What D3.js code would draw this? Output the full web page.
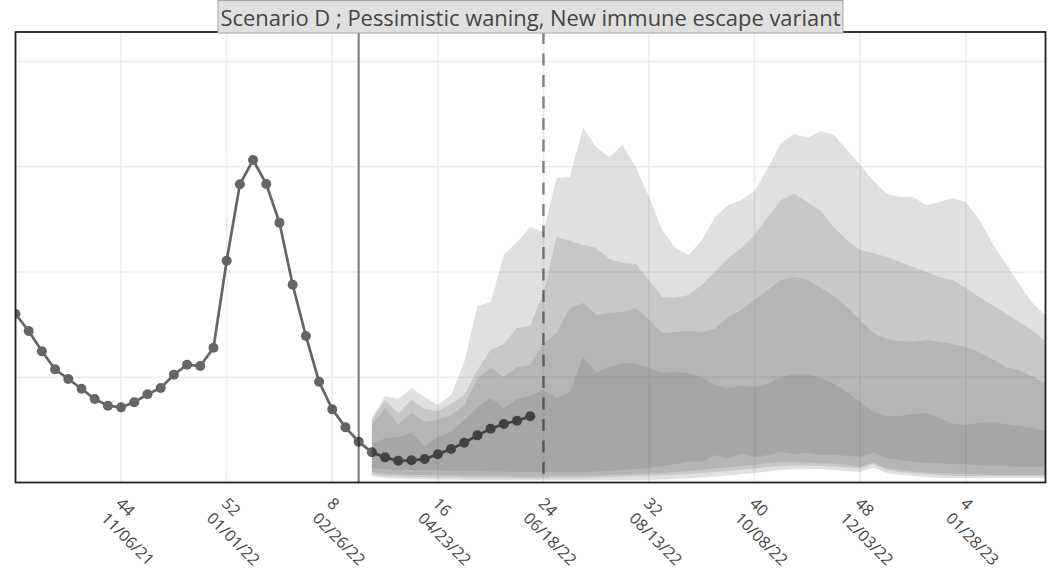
<!DOCTYPE html>
<html>
<head>
<meta charset="utf-8">
<script src="https://cdn.jsdelivr.net/npm/d3@7"></script>
<style>
  html, body { margin: 0; padding: 0; background: #fff; }
  svg { display: block; font-family: "Open Sans", "Noto Sans", sans-serif; }
</style>
</head>
<body>
<svg id="chart" width="1050" height="576"></svg>
<script>
// ---- data ---------------------------------------------------------------
const titleText = "Scenario D ; Pessimistic waning, New immune escape variant";

// weekly observed counts, first week ending 2021-09-11
const observedStart = "2021-09-11";
const observed = [1601, 1439, 1246, 1075, 983, 891, 793, 730, 714, 762,
  838, 898, 1024, 1119, 1107, 1281, 2107, 2833, 3064, 2836,
  2468, 1879, 1392, 958, 695, 524, 388, 287, 239, 207,
  211, 223, 268, 318, 378, 448, 511, 556, 587, 629];

// projection intervals, weekly, first week ending 2022-03-19
const projStart = "2022-03-19";
const q95hi = [613, 822, 793, 898, 812, 736, 831, 1145, 1677, 1715, 2161, 2285, 2427, 2380,
  2893, 2902, 3368, 3187, 3092, 3206, 2997, 2712, 2399, 2228,
  2161, 2304, 2522, 2636, 2684, 2769, 2988, 3225, 3311, 3273,
  3339, 3301, 3159, 3016, 2864, 2741, 2712, 2712, 2636, 2665,
  2703, 2665, 2503, 2275, 2085, 1895, 1715, 1591];
const q90hi = [594, 784, 660, 784, 698, 679, 746, 831, 1069, 1259, 1316, 1468, 1487, 1800,
  2332, 2294, 2256, 2228, 2123, 2085, 2076, 1924, 1762, 1753,
  1781, 1876, 2000, 2133, 2228, 2351, 2522, 2684, 2741, 2665,
  2579, 2427, 2304, 2209, 2180, 2142, 2095, 2047, 2000, 1952,
  1924, 1848, 1762, 1686, 1610, 1525, 1449, 1344];
const q80hi = [546, 708, 556, 660, 575, 594, 641, 736, 993, 1088, 1002, 1097, 1116, 1325,
  1420, 1658, 1705, 1591, 1610, 1620, 1658, 1544, 1420, 1430,
  1439, 1430, 1458, 1572, 1639, 1734, 1829, 1924, 1952, 1924,
  1848, 1772, 1667, 1544, 1420, 1363, 1344, 1335, 1354, 1335,
  1316, 1287, 1240, 1173, 1097, 1069, 1012, 945];
const q50hi = [356, 423, 432, 470, 347, 432, 480, 594, 717, 803, 708, 793, 822, 879,
  803, 860, 1192, 1040, 1097, 1135, 1126, 1088, 1040, 1050,
  1040, 1002, 926, 898, 917, 907, 936, 1002, 1031, 1031,
  993, 936, 860, 765, 670, 632, 632, 651, 660, 613,
  556, 546, 565, 575, 556, 537, 518, 489];
const q50lo = [138, 128, 119, 119, 119, 114, 109, 109, 109, 105, 105, 100, 100, 100,
  100, 100, 100, 105, 109, 119, 128, 138, 157, 176,
  200, 198, 261, 230, 277, 239, 261, 293, 271, 283,
  261, 268, 252, 245, 285, 230, 214, 198, 188, 182,
  176, 173, 166, 160, 157, 150, 150, 150];
const q80lo = [100, 81, 76, 71, 71, 67, 67, 62, 62, 62, 62, 57, 57, 57,
  62, 62, 62, 67, 71, 76, 81, 86, 90, 100,
  109, 119, 135, 144, 157, 166, 185, 195, 198, 190,
  181, 181, 166, 152, 190, 138, 119, 105, 95, 90,
  86, 81, 78, 71, 71, 71, 71, 71];
const q90lo = [81, 62, 57, 52, 52, 48, 48, 43, 43, 43, 43, 38, 38, 38,
  43, 43, 43, 48, 52, 57, 62, 67, 71, 76,
  81, 90, 100, 109, 124, 133, 147, 157, 162, 162,
  157, 152, 143, 133, 176, 119, 100, 90, 81, 71,
  62, 62, 62, 62, 62, 62, 62, 62];
const q95lo = [62, 43, 38, 33, 33, 29, 29, 24, 24, 24, 24, 24, 24, 24,
  24, 24, 24, 24, 24, 24, 24, 24, 29, 33,
  38, 48, 57, 67, 81, 90, 105, 119, 128, 128,
  128, 119, 109, 100, 143, 90, 71, 62, 52, 43,
  43, 43, 43, 43, 43, 43, 43, 43];

// x axis ticks: epiweek number over week-ending date
const tickWeeks = ["44", "52", "8", "16", "24", "32", "40", "48", "4"];
const tickDates = ["11/06/21", "01/01/22", "02/26/22", "04/23/22", "06/18/22",
  "08/13/22", "10/08/22", "12/03/22", "01/28/23"];
const yGridValues = [1000, 2000, 3000, 4000];

const xDomain = ["2021-09-11", "2023-03-11"];
const yDomain = [0, 4280];
const lastDataDate = "2022-03-12";   // solid line
const projectionDate = "2022-06-18"; // dashed line

// ---- layout -------------------------------------------------------------
const plot = { left: 15.5, right: 1045.5, top: 32, bottom: 482.5 };
const parseISO = d3.timeParse("%Y-%m-%d");
const parseMDY = d3.timeParse("%m/%d/%y");

const x = d3.scaleTime().domain(xDomain.map(parseISO)).range([plot.left, plot.right - 0.5]);
const y = d3.scaleLinear().domain(yDomain).range([plot.bottom, plot.top]);

const weekly = (start, n) => d3.range(n).map(i => d3.timeDay.offset(parseISO(start), 7 * i));

const obsDates = weekly(observedStart, observed.length);
const projDates = weekly(projStart, q95hi.length);

const svg = d3.select("#chart");

svg.append("defs").append("clipPath").attr("id", "plotClip")
  .append("rect")
  .attr("x", plot.left).attr("y", plot.top)
  .attr("width", plot.right - plot.left).attr("height", plot.bottom - plot.top);

// grid
const grid = svg.append("g").attr("class", "grid");
grid.selectAll("line.h").data(yGridValues).join("line")
  .attr("class", "h")
  .attr("x1", plot.left).attr("x2", plot.right)
  .attr("y1", d => y(d)).attr("y2", d => y(d))
  .attr("stroke", "#ebebeb").attr("stroke-width", 1.5);
grid.selectAll("line.v").data(tickDates).join("line")
  .attr("class", "v")
  .attr("x1", d => x(parseMDY(d))).attr("x2", d => x(parseMDY(d)))
  .attr("y1", plot.top).attr("y2", plot.bottom)
  .attr("stroke", "#ebebeb").attr("stroke-width", 1.5);

// projection bands, widest first
const bands = [
  { lo: q95lo, hi: q95hi },
  { lo: q90lo, hi: q90hi },
  { lo: q80lo, hi: q80hi },
  { lo: q50lo, hi: q50hi }
];
const bandArea = d3.area()
  .x(d => x(d.date))
  .y0(d => y(d.lo))
  .y1(d => y(d.hi));

const bandG = svg.append("g").attr("clip-path", "url(#plotClip)");
bands.forEach(b => {
  const rows = projDates.map((date, i) => ({ date, lo: b.lo[i], hi: b.hi[i] }));
  bandG.append("path")
    .attr("d", bandArea(rows))
    .attr("fill", "rgba(112,112,112,0.22)");
});

// reference lines
svg.append("line")
  .attr("x1", x(parseISO(lastDataDate))).attr("x2", x(parseISO(lastDataDate)))
  .attr("y1", plot.top).attr("y2", plot.bottom)
  .attr("stroke", "#7a7a7a").attr("stroke-width", 2);
svg.append("line")
  .attr("x1", x(parseISO(projectionDate))).attr("x2", x(parseISO(projectionDate)))
  .attr("y1", plot.top).attr("y2", plot.bottom)
  .attr("stroke", "rgba(0,0,0,0.45)").attr("stroke-width", 2.5)
  .attr("stroke-dasharray", "12,9.5");

// observed series
const obsRows = obsDates.map((date, i) => ({ date, v: observed[i] }));
const obsG = svg.append("g").attr("clip-path", "url(#plotClip)")
  .append("g").attr("opacity", 0.6);
obsG.append("path")
  .attr("d", d3.line().x(d => x(d.date)).y(d => y(d.v))(obsRows))
  .attr("fill", "none").attr("stroke", "#000").attr("stroke-width", 2.7);
obsG.selectAll("circle").data(obsRows).join("circle")
  .attr("cx", d => x(d.date)).attr("cy", d => y(d.v)).attr("r", 5)
  .attr("fill", "#000");

// frame
svg.append("rect")
  .attr("x", plot.left).attr("y", plot.top)
  .attr("width", plot.right - plot.left).attr("height", plot.bottom - plot.top)
  .attr("fill", "none").attr("stroke", "#222").attr("stroke-width", 1.8);

// x tick labels (two lines, rotated)
const tickG = svg.append("g");
tickDates.forEach((d, i) => {
  const tx = x(parseMDY(d));
  const t = tickG.append("text")
    .attr("transform", `translate(${tx - 6},${plot.bottom + 22}) rotate(45)`)
    .attr("font-size", 16).attr("fill", "#444").attr("text-anchor", "start");
  t.append("tspan").attr("x", 0).attr("dy", 0).text(tickWeeks[i]);
  t.append("tspan").attr("x", 0).attr("dy", 21).text(d);
});

// title box
const box = { x0: 218, x1: 843, y0: 0.5, y1: 33 };
svg.append("rect")
  .attr("x", box.x0).attr("y", box.y0)
  .attr("width", box.x1 - box.x0).attr("height", box.y1 - box.y0)
  .attr("fill", "#e0e0e0").attr("stroke", "#a6a6a6").attr("stroke-width", 1);
svg.append("text")
  .attr("x", (box.x0 + box.x1) / 2).attr("y", 26)
  .attr("text-anchor", "middle")
  .attr("font-size", 22).attr("fill", "#444")
  .attr("textLength", 620).attr("lengthAdjust", "spacingAndGlyphs")
  .text(titleText);
</script>
</body>
</html>
